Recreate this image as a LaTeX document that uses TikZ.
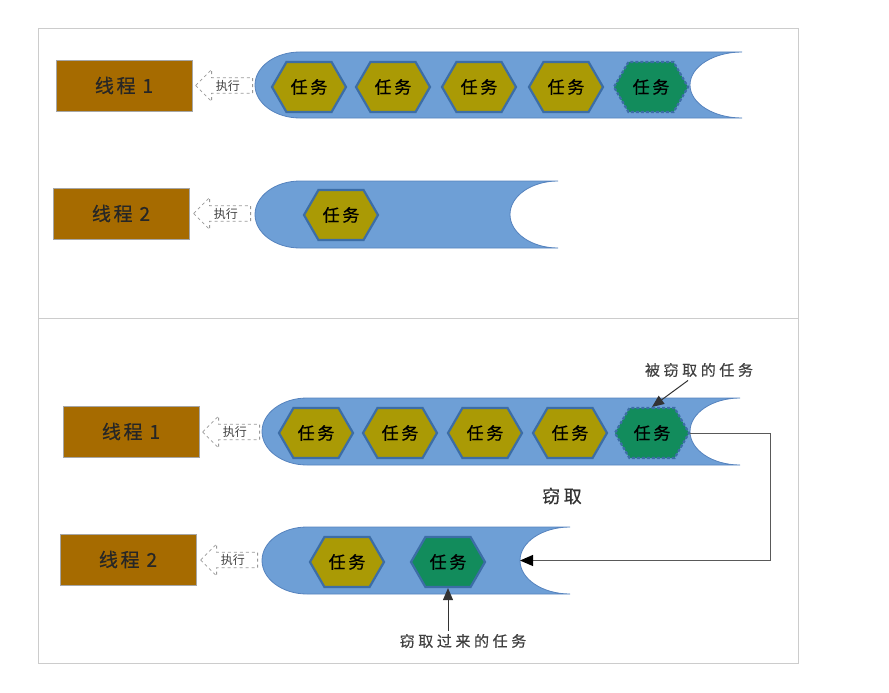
\documentclass[tikz,border=0pt]{standalone}
\usepackage{fontspec}
\setmainfont{Noto Sans CJK SC}
\usetikzlibrary{shapes.symbols,shapes.arrows,arrows.meta}
\definecolor{threadfill}{HTML}{A66B00}
\definecolor{hexfill}{HTML}{AA9A05}
\definecolor{hexline}{HTML}{3C6DA6}
\definecolor{greenfill}{HTML}{128C5C}
\definecolor{queuefill}{HTML}{6E9FD6}
\definecolor{queueline}{HTML}{5683BE}
\definecolor{framegray}{HTML}{CCCCCC}
\newcommand\myqueue[7]{% name xl xr yt yb d rx
  \fill[queuefill, draw=queueline, line width=0.8pt]
    ({#2+#7},#4) -- (#3,#4)
    .. controls ({#3-0.552*#6},#4) and ({#3-#6},{(#4+#5)/2-0.552*(#5-#4)/2}) .. ({#3-#6},{(#4+#5)/2})
    .. controls ({#3-#6},{(#4+#5)/2+0.552*(#5-#4)/2}) and ({#3-0.552*#6},#5) .. (#3,#5)
    -- ({#2+#7},#5)
    .. controls ({#2+0.448*#7},#5) and (#2,{(#4+#5)/2+0.552*(#5-#4)/2}) .. (#2,{(#4+#5)/2})
    .. controls (#2,{(#4+#5)/2-0.552*(#5-#4)/2}) and ({#2+0.448*#7},#4) .. ({#2+#7},#4) -- cycle;
  \coordinate (#1) at ({#3-#6},{(#4+#5)/2});
}
\tikzset{
  threadbox/.style={draw=gray!70, line width=0.8pt, fill=threadfill, minimum width=136pt, minimum height=51pt, inner sep=0pt, font=\fontsize{19}{19}\selectfont\addfontfeature{LetterSpace=14,FakeBold=0.6}, text=black!85},
  execarrow/.style={single arrow, shape border rotate=180, draw=gray!80, dashed, line width=0.8pt, minimum height=57pt, minimum width=32pt, single arrow head extend=8pt, inner sep=1.5pt, font=\fontsize{12}{12}\selectfont, text=black!75, anchor=tail},
  task/.style={signal, signal to=east and west, signal pointer angle=120, minimum width=74pt, minimum height=50pt, inner sep=0pt, fill=hexfill, draw=hexline, line width=2.2pt, font=\fontsize{17}{17}\selectfont\addfontfeature{LetterSpace=16,FakeBold=0.6}, text=black},
  stolen/.style={task, fill=greenfill, dashed, dash pattern=on 3pt off 2pt},
  gottask/.style={task, fill=greenfill},
  lbl/.style={font=\fontsize{15}{15}\selectfont\addfontfeature{LetterSpace=24,FakeBold=0.4}, text=black!75},
  ptr/.style={draw=black!80, line width=1pt, -{Triangle[length=12pt,width=10pt]}},
  stealline/.style={draw=black!65, line width=1pt, -{Triangle[length=13pt,width=11pt,fill=black,color=black]}},
}
\begin{document}
\begin{tikzpicture}[x=1pt,y=-1pt]
\useasboundingbox (0,0) rectangle (889,693);
\draw[framegray, line width=0.8pt] (38,28) rectangle (798,663);
\draw[framegray, line width=0.8pt] (38,318) -- (798,318);

% top section
\node[threadbox] (t1) at (124,85.5) {线程 1};
\node[execarrow] (e1) at (253,85.5) {执行};
\myqueue{q1}{255}{742}{52}{118}{52}{45}
\node[task] (a1) at (309,87) {任务};
\node[task] (a2) at (393,87) {任务};
\node[task] (a3) at (479,87) {任务};
\node[task] (a4) at (566,87) {任务};
\node[stolen] (a5) at (651,87) {任务};

\node[threadbox] (t2) at (121,213.5) {线程 2};
\node[execarrow] (e2) at (251,213.5) {执行};
\myqueue{q2}{255}{558}{181}{248}{48}{45}
\node[task] (b1) at (341,215) {任务};

% bottom section
\node[threadbox] (t3) at (131,431.5) {线程 1};
\node[execarrow] (e3) at (260,432) {执行};
\myqueue{q3}{262}{740}{398}{465}{50}{45}
\node[task] (c1) at (316,433) {任务};
\node[task] (c2) at (400,433) {任务};
\node[task] (c3) at (485,433) {任务};
\node[task] (c4) at (570,433) {任务};
\node[stolen] (c5) at (652,433) {任务};

\node[threadbox] (t4) at (128,559.5) {线程 2};
\node[execarrow] (e4) at (258,560) {执行};
\myqueue{q4}{262}{570}{527}{594}{50}{45}
\node[task] (d1) at (347,562) {任务};
\node[gottask] (d2) at (448,562) {任务};

\node[lbl] (l1) at (699,370) {被窃取的任务};
\node[font=\fontsize{18}{18}\selectfont\addfontfeature{LetterSpace=20,FakeBold=0.4}, text=black!80] (l2) at (562,496) {窃取};
\node[lbl] (l3) at (463,641) {窃取过来的任务};

\draw[ptr] ([xshift=-11pt]l1.south) -- (c5.north);
\draw[ptr] (l3.north -| d2.south) -- (d2.south);
\coordinate (turn) at (770,433);
\draw[stealline] (c5.east) -- (turn) |- (q4);
\end{tikzpicture}
\end{document}
